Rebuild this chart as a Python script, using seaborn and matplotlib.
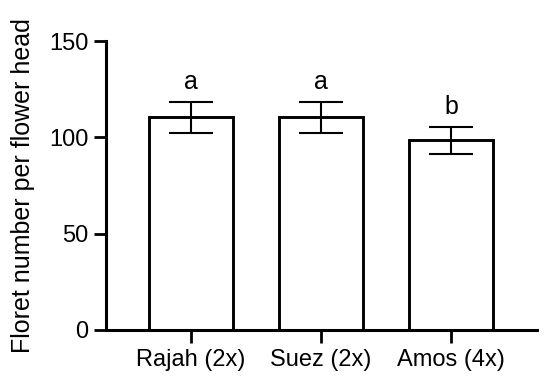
import matplotlib
matplotlib.use("Agg")
import matplotlib.pyplot as plt
import seaborn as sns
import pandas as pd

categories = ["Rajah (2x)", "Suez (2x)", "Amos (4x)"]
means = [110.5, 110.5, 98.5]
errors = [8.0, 8.0, 7.0]
letters = ["a", "a", "b"]
yticks = [0, 50, 100, 150]

sns.set_theme(style="ticks")
plt.rcParams['font.family'] = ['Liberation Sans', 'DejaVu Sans']
plt.rcParams['text.color'] = 'black'
plt.rcParams['axes.labelcolor'] = 'black'
plt.rcParams['xtick.color'] = 'black'
plt.rcParams['ytick.color'] = 'black'

fig = plt.figure(figsize=(5.5, 3.85), dpi=100)
ax = fig.add_axes([0.1927, 0.1429, 0.7836, 0.7506])

df = pd.DataFrame({"cat": categories, "val": means})
sns.barplot(data=df, x="cat", y="val", ax=ax, color="white",
            edgecolor="black", linewidth=2.1, width=0.646, errorbar=None)
ax.errorbar(range(len(categories)), means, yerr=errors, fmt="none",
            ecolor="black", elinewidth=1.5, capsize=15.5, capthick=1.5)
for i, (m, e, l) in enumerate(zip(means, errors, letters)):
    ax.text(i, m + e + 4, l, ha="center", va="bottom", fontsize=18)

ax.set_xlim(-0.654, 2.66)
ax.set_ylim(0, 150)
ax.set_yticks(yticks)
ax.set_xlabel("")
ax.set_ylabel("Floret number per flower head", fontsize=18, labelpad=10)
ax.tick_params(axis="both", labelsize=17, width=2.0, length=9,
               color="black", labelcolor="black")
ax.tick_params(axis="x", pad=5)
for s in ["top", "right"]:
    ax.spines[s].set_visible(False)
for s in ["left", "bottom"]:
    ax.spines[s].set_linewidth(2.2)
    ax.spines[s].set_color("black")

fig.savefig("out.png", dpi=100)
